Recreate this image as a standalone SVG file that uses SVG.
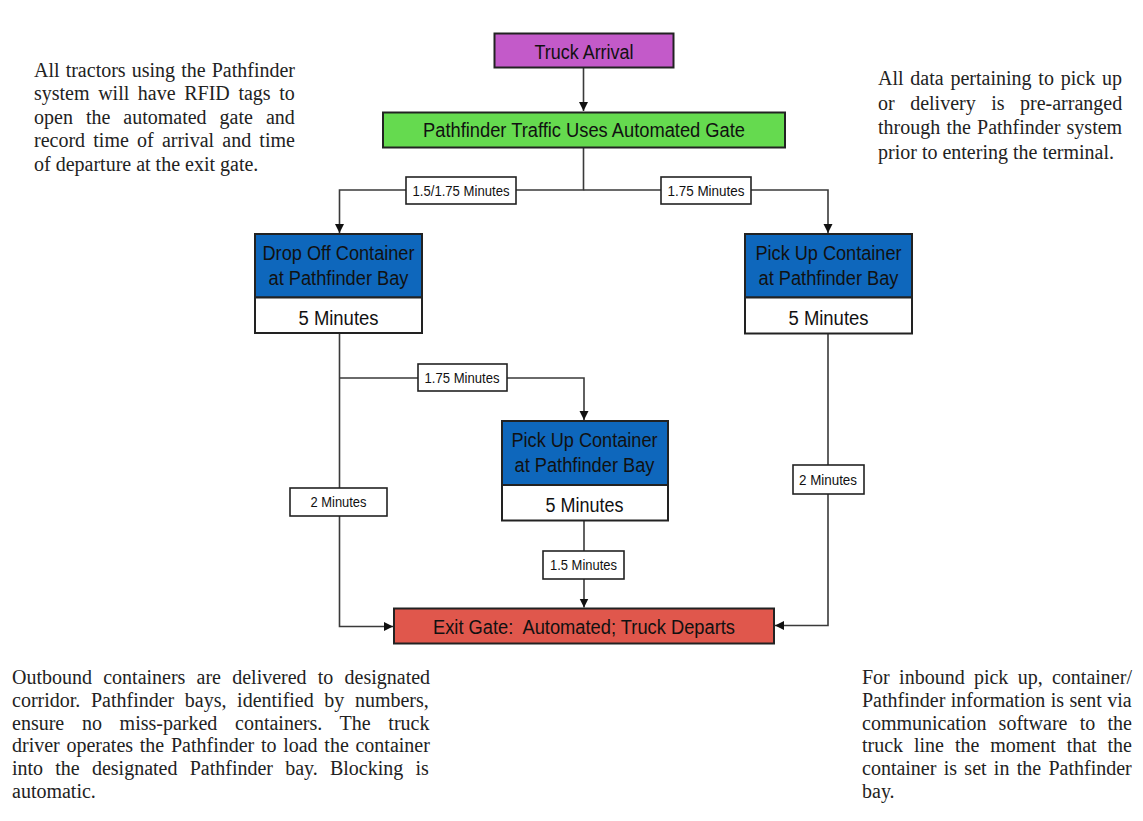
<svg xmlns="http://www.w3.org/2000/svg" width="1143" height="821" viewBox="0 0 1143 821">
<style>
.bx{stroke:#222;stroke-width:2}
.btxt{font-family:"Liberation Sans",Arial,sans-serif;font-size:20px;fill:#111;text-anchor:middle}
.lbl rect{fill:#fff;stroke:#222;stroke-width:1.6}
.lbl text{font-family:"Liberation Sans",Arial,sans-serif;font-size:14.5px;fill:#111;text-anchor:middle}
.con path{fill:none;stroke:#3a3a3a;stroke-width:1.6}
.note{font-family:"Liberation Serif","Times New Roman",serif;font-size:20px;fill:#222}
</style>
<defs>
<marker id="ah" markerUnits="userSpaceOnUse" markerWidth="10" markerHeight="10" refX="9" refY="5" orient="auto">
<path d="M0,0.5 L9,5 L0,9.5 z" fill="#111"/>
</marker>
</defs>
<rect width="1143" height="821" fill="#fff"/>

<g id="connectors" class="con">
<path d="M583.5,67 V111" marker-end="url(#ah)"/>
<path d="M583.5,147.5 V190 H339.5 V233" marker-end="url(#ah)"/>
<path d="M583.5,190 H828 V233" marker-end="url(#ah)"/>
<path d="M339.5,333 V626.5 H393" marker-end="url(#ah)"/>
<path d="M339.5,378 H584 V420" marker-end="url(#ah)"/>
<path d="M584,520.5 V607.5" marker-end="url(#ah)"/>
<path d="M828,334 V625.5 H775" marker-end="url(#ah)"/>
</g>

<g id="labels" class="lbl">
<g id="lbl-a"><rect x="406" y="177" width="110" height="27"/><text x="461" y="195.5" textLength="97" lengthAdjust="spacingAndGlyphs">1.5/1.75 Minutes</text></g>
<g id="lbl-b"><rect x="661" y="177" width="90" height="27"/><text x="706" y="195.5" textLength="77" lengthAdjust="spacingAndGlyphs">1.75 Minutes</text></g>
<g id="lbl-c"><rect x="418" y="364" width="89" height="27"/><text x="462" y="382.5" textLength="75" lengthAdjust="spacingAndGlyphs">1.75 Minutes</text></g>
<g id="lbl-d"><rect x="290" y="488" width="97" height="28"/><text x="338.5" y="507" textLength="56" lengthAdjust="spacingAndGlyphs">2 Minutes</text></g>
<g id="lbl-e"><rect x="543" y="551" width="81" height="28"/><text x="583.5" y="570" textLength="67" lengthAdjust="spacingAndGlyphs">1.5 Minutes</text></g>
<g id="lbl-f"><rect x="793" y="465" width="71" height="29"/><text x="828" y="484.5" textLength="58" lengthAdjust="spacingAndGlyphs">2 Minutes</text></g>
</g>

<g id="truck-arrival">
<rect class="bx" x="494.5" y="33.5" width="179" height="34" fill="#C35AC9"/>
<text class="btxt" x="584" y="58.5" textLength="99" lengthAdjust="spacingAndGlyphs">Truck Arrival</text>
</g>

<g id="automated-gate">
<rect class="bx" x="383" y="112.5" width="402" height="35" fill="#65DA4F"/>
<text class="btxt" x="584" y="137" textLength="322" lengthAdjust="spacingAndGlyphs">Pathfinder Traffic Uses Automated Gate</text>
</g>

<g id="drop-off">
<rect class="bx" x="255" y="234" width="167" height="63.5" fill="#0E67BC"/>
<rect class="bx" x="255" y="297.5" width="167" height="35.5" fill="#fff"/>
<text class="btxt" x="338.5" y="260" textLength="152" lengthAdjust="spacingAndGlyphs" fill="#0d1a33">Drop Off Container</text>
<text class="btxt" x="338.5" y="285" textLength="140" lengthAdjust="spacingAndGlyphs" fill="#0d1a33">at Pathfinder Bay</text>
<text class="btxt" x="338.5" y="324.5" textLength="80" lengthAdjust="spacingAndGlyphs">5 Minutes</text>
</g>

<g id="pick-up-right">
<rect class="bx" x="745" y="234" width="167" height="63.5" fill="#0E67BC"/>
<rect class="bx" x="745" y="297.5" width="167" height="36" fill="#fff"/>
<text class="btxt" x="828.5" y="260" textLength="146" lengthAdjust="spacingAndGlyphs" fill="#0d1a33">Pick Up Container</text>
<text class="btxt" x="828.5" y="285" textLength="140" lengthAdjust="spacingAndGlyphs" fill="#0d1a33">at Pathfinder Bay</text>
<text class="btxt" x="828.5" y="324.5" textLength="80" lengthAdjust="spacingAndGlyphs">5 Minutes</text>
</g>

<g id="pick-up-middle">
<rect class="bx" x="502" y="421" width="166" height="64" fill="#0E67BC"/>
<rect class="bx" x="502" y="485" width="166" height="35.5" fill="#fff"/>
<text class="btxt" x="584.5" y="447" textLength="146" lengthAdjust="spacingAndGlyphs" fill="#0d1a33">Pick Up Container</text>
<text class="btxt" x="584.5" y="472" textLength="140" lengthAdjust="spacingAndGlyphs" fill="#0d1a33">at Pathfinder Bay</text>
<text class="btxt" x="584.5" y="512" textLength="78" lengthAdjust="spacingAndGlyphs">5 Minutes</text>
</g>

<g id="exit-gate">
<rect class="bx" x="394" y="608.5" width="380" height="35" fill="#E0574C"/>
<text class="btxt" x="584" y="634" textLength="302" lengthAdjust="spacingAndGlyphs" style="white-space:pre">Exit Gate:  Automated; Truck Departs</text>
</g>

<g id="note-top-left" class="note">
<text x="34" y="76.5" word-spacing="1.1">All tractors using the Pathfinder</text>
<text x="34" y="100" word-spacing="3.6">system will have RFID tags to</text>
<text x="34" y="123.5" word-spacing="8">open the automated gate and</text>
<text x="34" y="147" word-spacing="3.2">record time of arrival and time</text>
<text x="34" y="170.5">of departure at the exit gate.</text>
</g>

<g id="note-top-right" class="note">
<text x="878" y="85" word-spacing="1.8">All data pertaining to pick up</text>
<text x="878" y="109.5" word-spacing="10.5">or delivery is pre-arranged</text>
<text x="878" y="134" word-spacing="1.2">through the Pathfinder system</text>
<text x="878" y="158.5">prior to entering the terminal.</text>
</g>

<g id="note-bottom-left" class="note">
<text x="12" y="684" word-spacing="6.2">Outbound containers are delivered to designated</text>
<text x="12" y="706.8" word-spacing="5.6">corridor. Pathfinder bays, identified by numbers,</text>
<text x="12" y="729.6" word-spacing="12.7">ensure no miss-parked containers. The truck</text>
<text x="12" y="752.4" word-spacing="1.7">driver operates the Pathfinder to load the container</text>
<text x="12" y="775.2" word-spacing="7.2">into the designated Pathfinder bay. Blocking is</text>
<text x="12" y="798">automatic.</text>
</g>

<g id="note-bottom-right" class="note">
<text x="862" y="684" word-spacing="4.3">For inbound pick up, container/</text>
<text x="862" y="706.8" word-spacing="0.5">Pathfinder information is sent via</text>
<text x="862" y="729.6" word-spacing="7.2">communication software to the</text>
<text x="862" y="752.4" word-spacing="5.9">truck line the moment that the</text>
<text x="862" y="775.2" word-spacing="2.3">container is set in the Pathfinder</text>
<text x="862" y="798">bay.</text>
</g>
</svg>
